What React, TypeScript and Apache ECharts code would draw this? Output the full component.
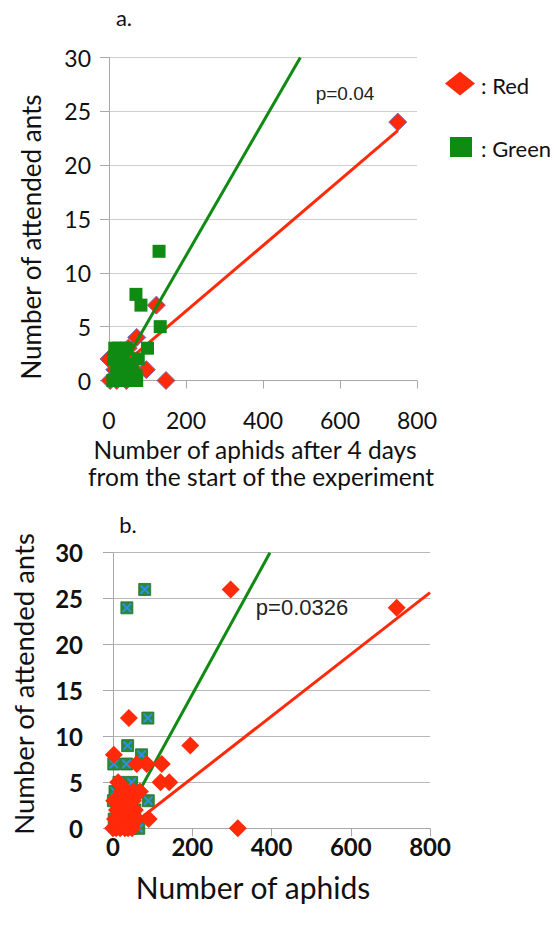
import React, { useEffect, useRef } from "react";
import * as echarts from "echarts";

// ---- Data: chart a ----
const redA: number[][] = [
  [750, 24], [123, 7], [72, 4], [97, 1], [148, 0], [0, 2], [3, 0], [20, 0], [35, 1],
  [50, 3], [60, 2], [45, 0], [25, 2], [15, 1], [65, 1],
];
const greenA: number[][] = [
  [130, 12], [70, 8], [83, 7], [133, 5], [100, 3], [25, 3], [45, 3], [35, 2.5], [12, 2],
  [76, 2], [60, 1.5], [20, 1], [55, 1], [70, 0.5], [10, 0], [30, 0], [50, 0], [72, 0],
  [40, 1], [65, 0], [20, 2], [15, 3],
];
const redLineA: number[][] = [[0, 0.35], [750, 23.2]];
const greenLineA: number[][] = [[13, 0], [497, 30]];

// ---- Data: chart b ----
const redB: number[][] = [
  [297, 26], [716, 24], [40, 12], [195, 9], [2, 8], [60, 7], [85, 7], [123, 7], [13, 5],
  [120, 5], [142, 5], [68, 4], [90, 1], [315, 0], [51, 4], [0, 0], [5, 1], [10, 2], [15, 3],
  [20, 1], [25, 2], [30, 3], [35, 4], [40, 2], [45, 1], [50, 3], [55, 2], [8, 0], [18, 0],
  [28, 1], [38, 0], [48, 0], [60, 1], [22, 4], [12, 1], [3, 3], [30, 0], [42, 3],
];
const greenB: number[][] = [
  [35, 24], [80, 26], [88, 12], [37, 9], [72, 8], [2, 7], [34, 7], [47, 5], [5, 4], [89, 3],
  [1, 3], [55, 2], [15, 5], [10, 2], [25, 1], [20, 0], [45, 0], [65, 0], [3, 1], [30, 3],
];
const redLineB: number[][] = [[37, 0], [800, 25.65]];
const greenLineB: number[][] = [[15, 0], [396, 30]];

const xTicks = [0, 200, 400, 600, 800];
const yTicks = [0, 5, 10, 15, 20, 25, 30];

const FONT = "Lato, 'Open Sans', sans-serif";
const PFONT = "'Liberation Sans', Arial, sans-serif";
const RED = "#ff2a0a";
const GREEN = "#0f8a12";
const XPATH =
  "path://M0,0 L1.6,0 L5,3.4 L8.4,0 L10,0 L10,1.6 L6.6,5 L10,8.4 L10,10 L8.4,10 L5,6.6 L1.6,10 L0,10 L0,8.4 L3.4,5 L0,1.6 Z";

export default function App() {
  const ref = useRef<HTMLDivElement>(null);
  useEffect(() => {
    if (!ref.current) return;
    const chart = echarts.init(ref.current, null, { renderer: "svg" });
    const axisCommon = (bold: boolean, size: number, margin: number, tickLen: number) => ({
      axisLine: { show: true, lineStyle: { color: "#a8a8a8", width: 1 } },
      axisTick: { show: true, length: tickLen, lineStyle: { color: "#a8a8a8" } },
      axisLabel: {
        fontSize: size,
        fontFamily: FONT,
        fontWeight: bold ? "bold" : "normal",
        color: "#111",
        margin,
      },
    });
    const option: any = {
      animation: false,
      grid: [
        { left: 109, top: 57.5, width: 308, height: 323 },
        { left: 113, top: 552.7, width: 317, height: 275.6 },
      ],
      xAxis: [
        {
          gridIndex: 0, type: "value", min: xTicks[0], max: xTicks[xTicks.length - 1], interval: 200,
          splitLine: { show: false }, ...axisCommon(false, 23, 28, 8),
        },
        {
          gridIndex: 1, type: "value", min: xTicks[0], max: xTicks[xTicks.length - 1], interval: 200,
          splitLine: { show: false }, ...axisCommon(true, 24, 6, 8),
        },
      ],
      yAxis: [
        {
          gridIndex: 0, type: "value", min: yTicks[0], max: yTicks[yTicks.length - 1], interval: 5,
          splitLine: { show: true, lineStyle: { color: "#cfcfcf", width: 1 } },
          ...axisCommon(false, 23, 18, 9),
        },
        {
          gridIndex: 1, type: "value", min: yTicks[0], max: yTicks[yTicks.length - 1], interval: 5,
          splitLine: { show: true, lineStyle: { color: "#b8b8b8", width: 1 } },
          ...axisCommon(true, 24, 30, 10),
        },
      ],
      series: [
        // chart a
        {
          type: "scatter", xAxisIndex: 0, yAxisIndex: 0, data: redA, symbol: "diamond",
          symbolSize: [18, 18], itemStyle: { color: RED, opacity: 1, borderColor: "#7a68b0", borderWidth: 1 }, z: 2,
        },
        {
          type: "line", xAxisIndex: 0, yAxisIndex: 0, data: redLineA, showSymbol: false,
          lineStyle: { color: RED, width: 3 }, clip: true, z: 3, silent: true,
        },
        {
          type: "scatter", xAxisIndex: 0, yAxisIndex: 0, data: greenA, symbol: "rect",
          symbolSize: 13, itemStyle: { color: GREEN, opacity: 1 }, z: 4,
        },
        {
          type: "line", xAxisIndex: 0, yAxisIndex: 0, data: greenLineA, showSymbol: false,
          lineStyle: { color: GREEN, width: 3 }, clip: true, z: 5, silent: true,
        },
        // chart b
        {
          type: "scatter", xAxisIndex: 1, yAxisIndex: 1, data: greenB, symbol: "rect",
          symbolSize: 12, itemStyle: { color: "#2a8a38", opacity: 1, borderColor: "#1f6f2a", borderWidth: 0.8 }, z: 2,
        },
        {
          type: "scatter", xAxisIndex: 1, yAxisIndex: 1, data: greenB, symbol: XPATH,
          symbolSize: 9, itemStyle: { color: "#2f8fe0", opacity: 1 }, z: 3, silent: true,
        },
        {
          type: "line", xAxisIndex: 1, yAxisIndex: 1, data: greenLineB, showSymbol: false,
          lineStyle: { color: GREEN, width: 3 }, clip: true, z: 4, silent: true,
        },
        {
          type: "line", xAxisIndex: 1, yAxisIndex: 1, data: redLineB, showSymbol: false,
          lineStyle: { color: RED, width: 3 }, clip: true, z: 4, silent: true,
        },
        {
          type: "scatter", xAxisIndex: 1, yAxisIndex: 1, data: redB, symbol: "diamond",
          symbolSize: 18, itemStyle: { color: RED, opacity: 1 }, z: 5,
        },
      ],
      graphic: [
        { type: "text", x: 124, y: 17, style: { text: "a.", font: `22px ${FONT}`, fill: "#111", textAlign: "center", textVerticalAlign: "middle" } },
        { type: "text", x: 128, y: 524, style: { text: "b.", font: `22px ${FONT}`, fill: "#111", textAlign: "center", textVerticalAlign: "middle" } },
        { type: "text", x: 345, y: 93, style: { text: "p=0.04", font: `19px ${PFONT}`, fill: "#222", textAlign: "center", textVerticalAlign: "middle" } },
        { type: "text", x: 302, y: 607, style: { text: "p=0.0326", font: `22px ${PFONT}`, fill: "#222", textAlign: "center", textVerticalAlign: "middle" } },
        { type: "text", x: 31, y: 237, rotation: Math.PI / 2, style: { text: "Number of attended ants", font: `26px ${FONT}`, fill: "#111", textAlign: "center", textVerticalAlign: "middle" } },
        { type: "text", x: 23, y: 684, rotation: Math.PI / 2, style: { text: "Number of attended ants", font: `27.5px ${FONT}`, fill: "#111", textAlign: "center", textVerticalAlign: "middle" } },
        { type: "text", x: 255, y: 449, style: { text: "Number of aphids after 4 days", font: `24.5px ${FONT}`, fill: "#111", textAlign: "center", textVerticalAlign: "middle" } },
        { type: "text", x: 261, y: 476, style: { text: "from the start of the experiment", font: `24.5px ${FONT}`, fill: "#111", textAlign: "center", textVerticalAlign: "middle" } },
        { type: "text", x: 253, y: 887, style: { text: "Number of aphids", font: `30px ${FONT}`, fill: "#111", textAlign: "center", textVerticalAlign: "middle" } },
        // legend
        { type: "polygon", shape: { points: [[460, 71.5], [475, 83.5], [460, 95.5], [445, 83.5]] }, style: { fill: RED } },
        { type: "text", x: 481, y: 85, style: { text: ": Red", font: `22px ${FONT}`, fill: "#111", textAlign: "left", textVerticalAlign: "middle" } },
        { type: "rect", shape: { x: 450, y: 137, width: 22, height: 20 }, style: { fill: GREEN } },
        { type: "text", x: 481, y: 148, style: { text: ": Green", font: `22px ${FONT}`, fill: "#111", textAlign: "left", textVerticalAlign: "middle" } },
      ],
    };
    chart.setOption(option);
    return () => chart.dispose();
  }, []);
  return <div ref={ref} style={{ position: "absolute", left: 0, top: 0, width: 556, height: 930, background: "#fff" }} />;
}
